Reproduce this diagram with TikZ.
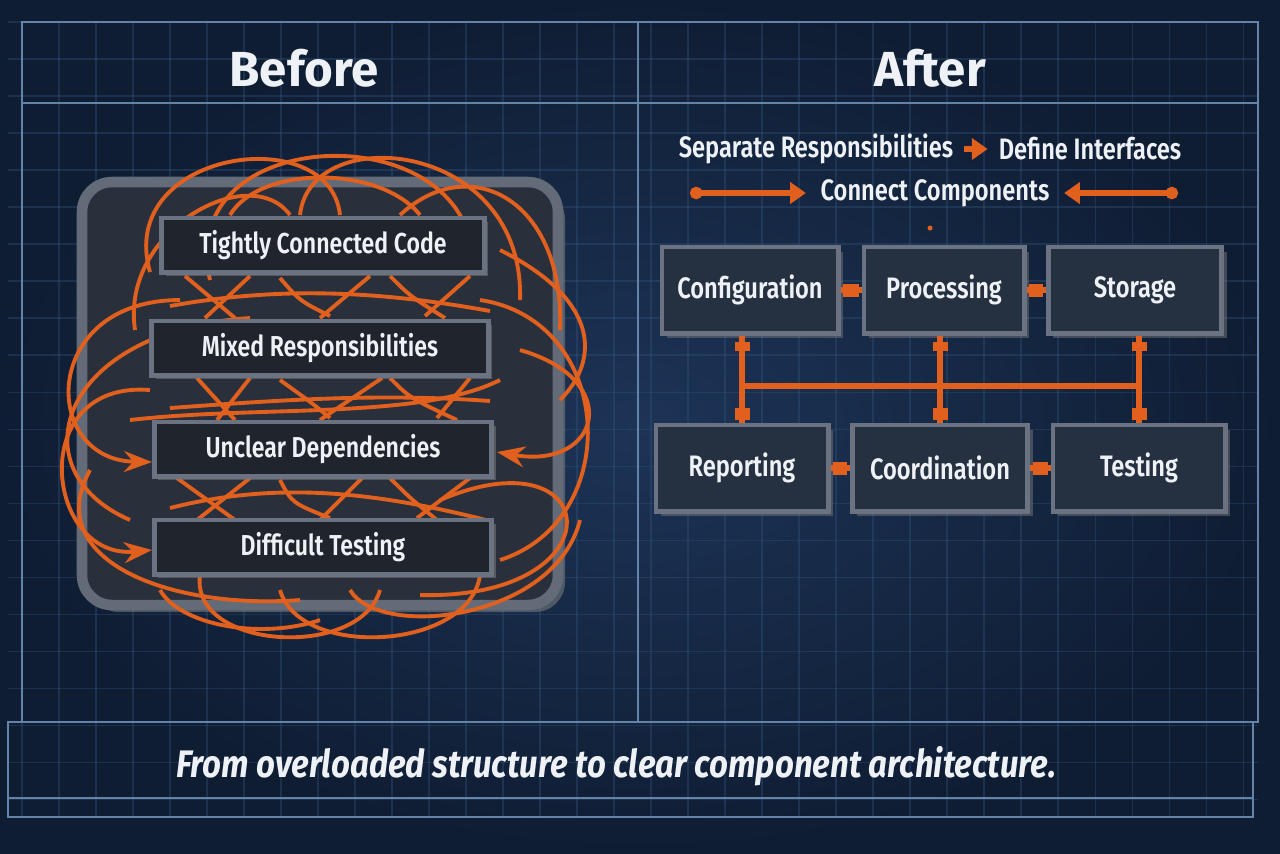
\documentclass[tikz,border=0pt]{standalone}
\usepackage{fontspec}
\setmainfont{Fira Sans}
\newfontfamily\condfont{Fira Sans SemiBold}[FakeStretch=0.8]
\newfontfamily\capfont{Fira Sans}[FakeStretch=0.86]
\usetikzlibrary{arrows.meta,shadows}
\definecolor{navy}{HTML}{1D3457}
\definecolor{navydeep}{HTML}{0F1D33}
\definecolor{gridblue}{HTML}{35577F}
\definecolor{framegray}{HTML}{6483A8}
\definecolor{rust}{HTML}{E2601E}
\definecolor{slab}{HTML}{2A303B}
\definecolor{slabedge}{HTML}{636B78}
\definecolor{boxfill}{HTML}{1F242D}
\definecolor{boxedge}{HTML}{6B7282}
\definecolor{partfill}{HTML}{253041}
\definecolor{ink}{HTML}{EEF2F6}

\begin{document}
\begin{tikzpicture}[x=0.01cm,y=-0.01cm,every node/.style={text=ink},
  gridline/.style={gridblue,line width=0.3pt,opacity=0.35},
  frame/.style={framegray,line width=0.8pt},
  wire/.style={rust,line width=1.1pt},
  messbox/.style={draw=boxedge,fill=boxfill,line width=1.4pt,minimum height=0.54cm,font=\condfont\fontsize{8.2}{9}\selectfont,drop shadow={opacity=0.5,shadow xshift=0.04cm,shadow yshift=-0.04cm}},
  part/.style={draw=boxedge,fill=partfill,line width=1.4pt,minimum height=0.86cm,font=\condfont\fontsize{8.4}{10}\selectfont,drop shadow={opacity=0.45,shadow xshift=0.05cm,shadow yshift=-0.05cm}},
  link/.style={rust,line width=1.6pt},
  plug/.style={fill=rust,inner sep=0pt,minimum width=0.15cm,minimum height=0.09cm},
  hplug/.style={fill=rust,inner sep=0pt,minimum width=0.08cm,minimum height=0.13cm},
  pointer/.style={rust,line width=1.5pt,{Circle[length=3.5pt]}-{Triangle[length=4.5pt,width=6pt]}},
  headline/.style={font=\condfont\fontsize{8.4}{10}\selectfont,inner sep=1pt},
  title/.style={font=\bfseries\fontsize{14}{16}\selectfont}]
\useasboundingbox (0,0) rectangle (1280,853);
% background and blueprint grid
\fill[navydeep] (0,0) rectangle (1280,853);
\shade[inner color=navy,outer color=navydeep] (0,0) rectangle (1280,853);
\foreach \x in {22,59,...,1258} \draw[gridline] (\x,22) -- (\x,817);
\foreach \y in {22,59,...,817} \draw[gridline] (8,\y) -- (1258,\y);
\draw[frame] (22,22) rectangle (1258,722);
\draw[frame] (22,103) -- (1258,103);
\draw[frame] (638,22) -- (638,722);
\draw[frame] (8,722) rectangle (1253,817);
\draw[frame] (8,798) -- (1253,798);

\node[title] (before) at (304,68) {Before};
\node[title] (after) at (930,68) {After};

% before: the overloaded block
\draw[slabedge,fill=slab,line width=3pt,rounded corners=0.3cm,drop shadow={opacity=0.55,shadow xshift=0.07cm,shadow yshift=-0.07cm}] (82,182) rectangle (558,605);
\draw[wire] (150,272) .. controls (115,150) and (330,120) .. (340,215);
\draw[wire] (210,280) .. controls (175,130) and (440,115) .. (470,240);
\draw[wire] (300,215) .. controls (310,120) and (525,140) .. (520,300);
\draw[wire] (400,215) .. controls (470,150) and (565,200) .. (560,330);
\draw[wire] (230,215) .. controls (260,165) and (380,165) .. (420,215);
\draw[wire] (135,330) .. controls (120,230) and (250,160) .. (290,215);
\draw[wire,-{Stealth}] (180,300) .. controls (40,300) and (40,460) .. (152,462);
\draw[wire,-{Stealth}] (150,390) .. controls (25,380) and (45,560) .. (152,550);
\draw[wire] (250,318) .. controls (60,330) and (15,470) .. (130,520);
\draw[wire] (90,470) .. controls (40,560) and (170,610) .. (300,600);
\draw[wire] (130,420) .. controls (260,405) and (420,420) .. (500,380);
\draw[wire,-{Stealth}] (520,350) .. controls (625,380) and (600,470) .. (497,452);
\draw[wire] (480,300) .. controls (615,320) and (625,520) .. (500,560);
\draw[wire] (440,500) .. controls (605,430) and (620,600) .. (420,595);
\draw[wire] (500,250) .. controls (600,300) and (600,360) .. (560,400);
\draw[wire] (200,575) .. controls (190,650) and (360,660) .. (380,590);
\draw[wire] (280,590) .. controls (300,660) and (470,650) .. (480,575);
\draw[wire] (350,590) .. controls (380,640) and (555,620) .. (580,520);
\draw[wire] (160,590) .. controls (180,625) and (260,640) .. (320,620);
\foreach \y/\s in {276/0,378/12,478/-8}{
  \draw[wire] (185+\s,\y) -- (235,\y+42);
  \draw[wire] (250,\y) -- (205+\s,\y+42);
  \draw[wire] (280,\y+2) .. controls (300+\s,\y+25) .. (330,\y+40);
  \draw[wire] (370+\s,\y) -- (320,\y+42);
  \draw[wire] (390,\y) .. controls (410,\y+20) .. (445+\s,\y+42);
  \draw[wire] (470,\y) -- (425+\s,\y+40);
  \draw[wire] (170,\y+30) .. controls (280,\y+10+\s) and (380,\y+15) .. (490,\y+35-\s);
}
\node[messbox,minimum width=3.22cm] (tight) at (323,245) {Tightly Connected Code};
\node[messbox,minimum width=3.36cm] (mixed) at (320,348) {Mixed Responsibilities};
\node[messbox,minimum width=3.37cm] (unclear) at (323,449) {Unclear Dependencies};
\node[messbox,minimum width=3.37cm] (hard) at (323,547) {Difficult Testing};

% after: steps
\node[headline] (sep) at (816,149) {Separate Responsibilities};
\node[headline] (def) at (1090,149) {Define Interfaces};
\draw[rust,line width=1.6pt,-{Triangle[length=4.5pt,width=6pt]},shorten <=2pt,shorten >=2pt] (sep) -- (def);
\node[headline] (conn) at (935,193) {Connect Components};
\coordinate (connL) at (690,193);
\coordinate (connR) at (1178,193);
\draw[pointer,shorten >=3pt] (connL) -- (conn);
\draw[pointer,shorten >=3pt] (connR) -- (conn);
\node[fill=rust,circle,inner sep=0pt,minimum size=0.05cm] (seam) at (930,228) {};

% after: components
\node[part,minimum width=1.76cm] (conf) at (750,290) {Configuration};
\node[part,minimum width=1.60cm] (proc) at (944,290) {Processing};
\node[part,minimum width=1.73cm] (stor) at (1135,290) {Storage};
\node[part,minimum width=1.72cm] (rept) at (742,468) {Reporting};
\node[part,minimum width=1.75cm] (coord) at (940,468) {Coordination};
\node[part,minimum width=1.72cm] (test) at (1139,468) {Testing};
\coordinate (bus) at (0,386);
\draw[link] (conf) -- (proc) node[hplug,pos=0,anchor=west] {} node[hplug,pos=1,anchor=east] {};
\draw[link] (proc) -- (stor) node[hplug,pos=0,anchor=west] {} node[hplug,pos=1,anchor=east] {};
\draw[link] (rept) -- (coord) node[hplug,pos=0,anchor=west] {} node[hplug,pos=1,anchor=east] {};
\draw[link] (coord) -- (test) node[hplug,pos=0,anchor=west] {} node[hplug,pos=1,anchor=east] {};
\draw[link] (rept.north |- conf.south) -- (rept.north) node[plug,pos=0,anchor=north,yshift=-0.04cm] {} node[plug,pos=1,anchor=south,minimum height=0.12cm] {};
\draw[link] (coord.north |- proc.south) -- (coord.north) node[plug,pos=0,anchor=north,yshift=-0.04cm] {} node[plug,pos=1,anchor=south,minimum height=0.12cm] {};
\draw[link] (test.north |- stor.south) -- (test.north) node[plug,pos=0,anchor=north,yshift=-0.04cm] {} node[plug,pos=1,anchor=south,minimum height=0.12cm] {};
\draw[link] (rept.north |- bus) -- (test.north |- bus);

\node[font=\capfont\bfseries\itshape\fontsize{10.9}{12}\selectfont] (moral) at (616,766) {From overloaded structure to clear component architecture.};
\end{tikzpicture}
\end{document}
